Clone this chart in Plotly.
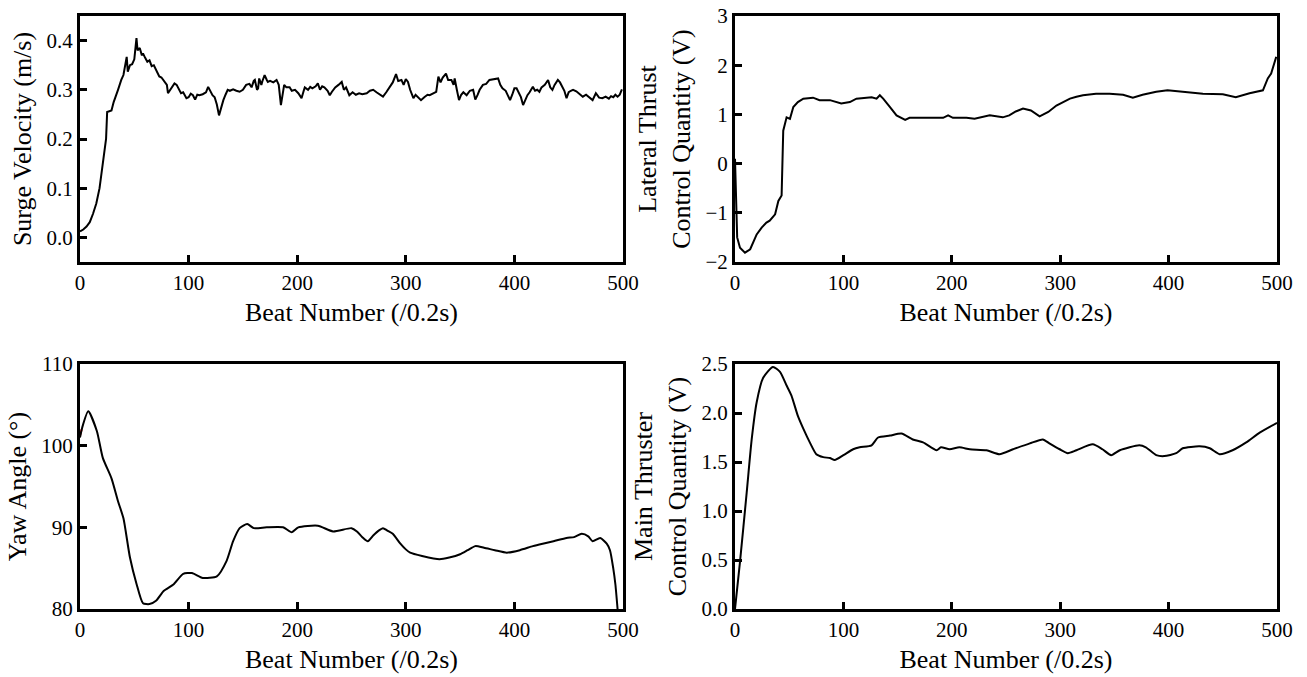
import plotly.graph_objects as go

# ---------------- data ----------------
surge_beat = [0, 3, 6, 9, 12, 15, 18, 20, 22, 24, 25, 27, 29, 31, 33, 35, 38, 40, 43, 44, 46, 48, 50, 52, 53, 55, 57, 58, 60, 62,
              64, 66, 68, 70, 73, 75, 78, 80, 81, 83, 85, 87, 89, 91, 93, 95, 98, 100, 102, 104, 106, 108, 110, 113, 116, 118,
              120, 122, 124, 126, 128, 130, 132, 134, 136, 138, 141, 144, 147, 150, 153, 156, 158, 160, 161, 163, 164, 165, 167,
              168, 170, 172, 173, 175, 178, 181, 183, 185, 187, 188, 190, 193, 195, 198, 201, 204, 206, 207, 210, 212, 214, 217,
              219, 221, 223, 225, 228, 230, 232, 235, 238, 241, 243, 245, 248, 251, 254, 257, 260, 264, 267, 270, 273, 276, 279,
              282, 285, 288, 291, 293, 296, 298, 300, 302, 304, 307, 309, 311, 314, 317, 320, 322, 325, 328, 330, 332, 334, 337,
              339, 342, 344, 345, 347, 349, 351, 353, 356, 359, 362, 364, 366, 368, 371, 374, 377, 380, 383, 385, 387, 389, 392,
              394, 396, 398, 400, 402, 404, 406, 408, 410, 412, 414, 417, 419, 421, 423, 425, 428, 431, 433, 435, 437, 440, 442,
              444, 446, 448, 450, 452, 454, 457, 460, 463, 466, 469, 472, 475, 478, 481, 484, 487, 489, 491, 493, 495, 497, 499]
surge_vel = [0.012, 0.016, 0.022, 0.031, 0.048, 0.069, 0.100, 0.130, 0.165, 0.200, 0.255, 0.256, 0.258, 0.275, 0.290, 0.300,
             0.320, 0.330, 0.367, 0.337, 0.350, 0.352, 0.362, 0.405, 0.380, 0.385, 0.370, 0.374, 0.365, 0.357, 0.360, 0.348,
             0.350, 0.340, 0.327, 0.325, 0.316, 0.310, 0.293, 0.300, 0.305, 0.313, 0.310, 0.300, 0.293, 0.295, 0.283, 0.285,
             0.292, 0.289, 0.280, 0.290, 0.289, 0.291, 0.295, 0.306, 0.298, 0.289, 0.285, 0.270, 0.248, 0.265, 0.279, 0.290,
             0.300, 0.298, 0.301, 0.298, 0.296, 0.300, 0.310, 0.312, 0.305, 0.318, 0.320, 0.300, 0.303, 0.323, 0.310, 0.318,
             0.330, 0.320, 0.316, 0.318, 0.315, 0.320, 0.310, 0.269, 0.295, 0.310, 0.305, 0.305, 0.298, 0.300, 0.293, 0.283,
             0.298, 0.305, 0.300, 0.306, 0.303, 0.307, 0.313, 0.300, 0.307, 0.305, 0.298, 0.289, 0.296, 0.305, 0.310, 0.316,
             0.300, 0.305, 0.289, 0.295, 0.290, 0.293, 0.291, 0.293, 0.298, 0.300, 0.295, 0.290, 0.286, 0.295, 0.305, 0.315,
             0.332, 0.318, 0.320, 0.310, 0.322, 0.316, 0.300, 0.283, 0.290, 0.285, 0.279, 0.285, 0.290, 0.289, 0.293, 0.296,
             0.327, 0.315, 0.325, 0.333, 0.320, 0.320, 0.310, 0.323, 0.300, 0.279, 0.290, 0.295, 0.289, 0.298, 0.300, 0.280,
             0.289, 0.300, 0.310, 0.312, 0.320, 0.321, 0.322, 0.323, 0.310, 0.303, 0.298, 0.290, 0.279, 0.290, 0.303, 0.303,
             0.295, 0.285, 0.269, 0.280, 0.289, 0.295, 0.306, 0.298, 0.300, 0.296, 0.305, 0.310, 0.320, 0.305, 0.300, 0.310,
             0.320, 0.315, 0.305, 0.298, 0.283, 0.295, 0.298, 0.300, 0.297, 0.292, 0.286, 0.290, 0.284, 0.279, 0.293, 0.284,
             0.283, 0.286, 0.282, 0.287, 0.285, 0.290, 0.286, 0.290, 0.301]

lat_beat = [0, 1, 2, 4.6, 9.2, 14, 20, 24.6, 29, 32, 34, 37, 40, 43, 44.5, 47.6, 50.7, 53.8, 58, 63, 72, 78, 87.6, 98, 106,
            112, 126, 130.6, 133.6, 136.7, 143, 149, 157, 161, 173.5, 192, 196.6, 201, 213.5, 221, 235, 247, 253, 259, 265.7,
            273, 281, 289, 296.5, 303, 309, 315, 321, 333, 345.6, 358, 367, 376, 388.6, 399, 413, 431.6, 450, 462, 474.7, 487,
            491.5, 494.6, 499.3]
lat_ctrl = [0.10, -0.60, -1.50, -1.71, -1.81, -1.74, -1.44, -1.30, -1.20, -1.16, -1.10, -1.03, -0.76, -0.65, 0.67, 0.94,
            0.91, 1.15, 1.25, 1.32, 1.34, 1.29, 1.29, 1.22, 1.25, 1.32, 1.35, 1.32, 1.39, 1.32, 1.15, 0.98, 0.89, 0.93, 0.93,
            0.93, 0.98, 0.93, 0.93, 0.91, 0.98, 0.94, 0.98, 1.06, 1.12, 1.08, 0.96, 1.05, 1.18, 1.26, 1.32, 1.36, 1.39, 1.42,
            1.42, 1.40, 1.34, 1.40, 1.46, 1.49, 1.46, 1.42, 1.41, 1.35, 1.43, 1.49, 1.73, 1.83, 2.17]

yaw_beat = [0, 2, 7.6, 15.5, 21, 29, 35, 40, 46, 52, 58, 64, 70, 77, 86, 95, 103, 113, 126, 135, 141, 147, 154, 160, 172,
            187, 195, 201, 219, 233, 250, 255, 260, 265, 270, 275, 279, 283, 288, 295, 300, 304, 315, 331, 340, 350, 357, 364,
            372, 382, 393, 405, 417, 426, 436, 448, 455, 462, 468, 472, 479, 485, 488, 491, 493, 495]
yaw_angle = [101.0, 102.2, 104.2, 101.8, 98.5, 96.0, 93.2, 91.1, 86.3, 83.1, 80.7, 80.6, 81.0, 82.2, 83.0, 84.3, 84.4, 83.8,
             84.0, 85.9, 88.3, 89.9, 90.4, 89.9, 90.0, 90.0, 89.4, 90.0, 90.2, 89.5, 89.9, 89.5, 88.8, 88.3, 89.0, 89.6, 89.9,
             89.6, 89.2, 88.0, 87.3, 86.9, 86.5, 86.1, 86.3, 86.7, 87.2, 87.7, 87.5, 87.2, 86.9, 87.2, 87.7, 88.0, 88.3, 88.7,
             88.8, 89.2, 88.9, 88.3, 88.7, 88.0, 87.2, 85.0, 83.0, 80.0]
yaw_ref_beat = [0, 1.5]
yaw_ref_angle = [101.2, 102.0]

main_beat = [0, 4.6, 10.8, 15.4, 20, 26, 35, 41.5, 47.6, 52, 58, 63, 69, 75, 81.4, 87.6, 92, 100, 109, 115, 126, 132, 143,
             153.6, 164, 173.5, 186, 190, 198, 207, 216.6, 232, 244, 256.5, 272, 284, 290, 299.5, 307, 315, 330, 339, 347,
             355, 373, 379, 388.6, 396, 407, 413, 428.6, 438, 447, 459, 471.6, 484, 500]
main_ctrl = [0.0, 0.48, 1.19, 1.73, 2.11, 2.36, 2.47, 2.42, 2.28, 2.18, 1.97, 1.84, 1.70, 1.58, 1.55, 1.54, 1.52, 1.57, 1.63,
             1.65, 1.67, 1.75, 1.77, 1.79, 1.73, 1.70, 1.62, 1.65, 1.63, 1.65, 1.63, 1.62, 1.58, 1.63, 1.69, 1.73, 1.69, 1.63,
             1.59, 1.62, 1.68, 1.63, 1.57, 1.62, 1.67, 1.65, 1.57, 1.56, 1.59, 1.64, 1.66, 1.64, 1.58, 1.62, 1.70, 1.80, 1.90]

x_ticks = [0, 100, 200, 300, 400, 500]
surge_ticks = [0.0, 0.1, 0.2, 0.3, 0.4]
lat_ticks = [-2, -1, 0, 1, 2, 3]
yaw_ticks = [80, 90, 100, 110]
main_ticks = [0.0, 0.5, 1.0, 1.5, 2.0, 2.5]

x_title = "Beat Number (/0.2s)"

# ---------------- figure ----------------
W, H = 1307, 677
FONT = "Liberation Serif"
fig = go.Figure()

line = dict(color="black", width=2)
smooth = dict(color="black", width=2, shape="spline", smoothing=0.6)
fig.add_trace(go.Scatter(x=surge_beat, y=surge_vel, mode="lines", line=line, xaxis="x", yaxis="y"))
fig.add_trace(go.Scatter(x=lat_beat, y=lat_ctrl, mode="lines", line=line, xaxis="x2", yaxis="y2"))
fig.add_trace(go.Scatter(x=yaw_ref_beat, y=yaw_ref_angle, mode="lines", line=dict(color="red", width=2),
                         xaxis="x3", yaxis="y3"))
fig.add_trace(go.Scatter(x=yaw_beat, y=yaw_angle, mode="lines", line=smooth, xaxis="x3", yaxis="y3"))
fig.add_trace(go.Scatter(x=main_beat, y=main_ctrl, mode="lines", line=smooth, xaxis="x4", yaxis="y4"))

xd_left = [80 / W, 623 / W]
xd_right = [735 / W, 1277 / W]
yd_top = [1 - 262 / H, 1 - 16 / H]
yd_bot = [1 - 609 / H, 1 - 364 / H]

tickfont = dict(family=FONT, size=21, color="black")
titlefont = dict(family=FONT, size=26, color="black")


def xaxis(domain, anchor):
    return dict(domain=domain, anchor=anchor, range=[0, 500], tickvals=x_ticks,
                ticks="inside", ticklen=7, tickwidth=3, tickcolor="black",
                showline=True, linewidth=3, linecolor="black", mirror=True,
                showgrid=False, zeroline=False, tickfont=tickfont, automargin=False,
                title=dict(text=x_title, font=titlefont, standoff=9))


def yaxis(domain, anchor, rng, ticks, title, fmt=None, standoff=8):
    d = dict(domain=domain, anchor=anchor, range=rng, tickvals=ticks,
             ticks="inside", ticklen=7, tickwidth=3, tickcolor="black",
             showline=True, linewidth=3, linecolor="black", mirror=True,
             showgrid=False, zeroline=False, tickfont=tickfont, automargin=False,
             title=dict(text=title, font=titlefont, standoff=standoff))
    if fmt:
        d["tickformat"] = fmt
    return d


fig.update_layout(
    width=W, height=H,
    margin=dict(l=0, r=0, t=0, b=0),
    paper_bgcolor="white", plot_bgcolor="white",
    showlegend=False,
    font=dict(family=FONT, color="black"),
    xaxis=xaxis(xd_left, "y"),
    yaxis=yaxis(yd_top, "x", [-0.05, 0.45], surge_ticks, "Surge Velocity (m/s)", ".1f"),
    xaxis2=xaxis(xd_right, "y2"),
    yaxis2=yaxis(yd_top, "x2", [-2, 3], lat_ticks, "Lateral Thrust<br>Control Quantity (V)"),
    xaxis3=xaxis(xd_left, "y3"),
    yaxis3=yaxis(yd_bot, "x3", [80, 110], yaw_ticks, "Yaw Angle (°)"),
    xaxis4=xaxis(xd_right, "y4"),
    yaxis4=yaxis(yd_bot, "x4", [0, 2.5], main_ticks, "Main Thruster<br>Control Quantity (V)", ".1f"),
)

fig.write_html("out.html", config={"displayModeBar": False},
               post_script="document.body.style.margin='0';")
